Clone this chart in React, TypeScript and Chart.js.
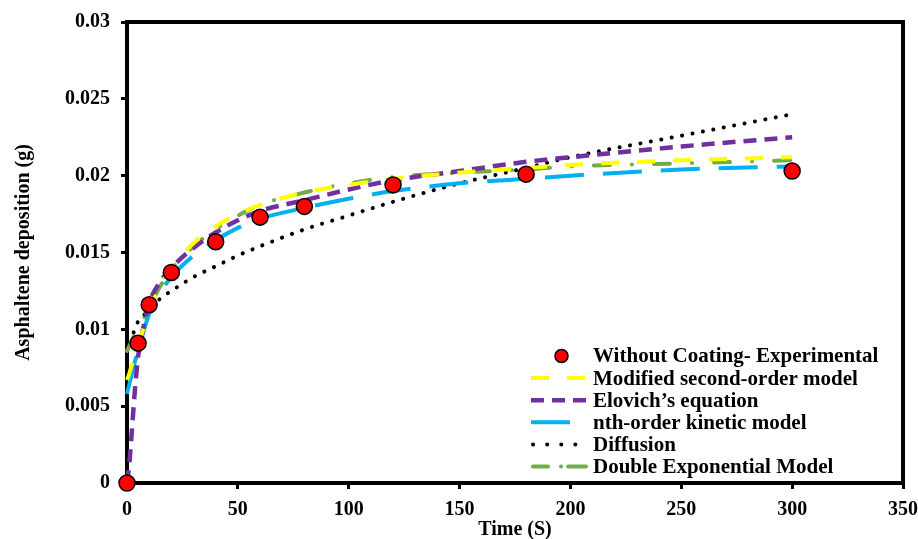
import React, { useEffect, useRef } from 'react';
import { Chart, registerables } from 'chart.js';
Chart.register(...registerables);

const FONT = '"Liberation Serif", "Times New Roman", serif';

// Experimental data
const tExp = [0, 5, 10, 20, 40, 60, 80, 120, 180, 300];
const qExp = [0, 0.0091, 0.0116, 0.0137, 0.0157, 0.0173, 0.018, 0.0194, 0.0201, 0.0203];

// Model curves
const tModel = [0, 1, 2, 3, 4, 5, 7.5, 10, 15, 20, 30, 40, 50, 60, 80, 100, 120, 150, 180, 200, 250, 300];
const qSecondOrder = [0.0067, 0.0071, 0.0076, 0.008, 0.0085, 0.0089, 0.0101, 0.0112, 0.0128, 0.014, 0.0156, 0.0167, 0.0175, 0.0181, 0.0189, 0.0194, 0.0198, 0.0202, 0.0205, 0.0207, 0.021, 0.0212];
const qElovich = [0, 0.0012, 0.003, 0.005, 0.0068, 0.0082, 0.0102, 0.0117, 0.0131, 0.014, 0.0153, 0.0163, 0.0171, 0.0177, 0.0184, 0.0191, 0.0197, 0.0203, 0.0209, 0.0212, 0.0219, 0.0225];
const qNthOrder = [0.0058, 0.0064, 0.007, 0.0076, 0.0081, 0.0086, 0.0099, 0.011, 0.0124, 0.0134, 0.0148, 0.0158, 0.0166, 0.0172, 0.0179, 0.0185, 0.019, 0.0195, 0.0198, 0.02, 0.0204, 0.0206];
const qDoubleExp = [0.0086, 0.0089, 0.0092, 0.0095, 0.0098, 0.01, 0.0107, 0.0114, 0.0128, 0.0139, 0.0154, 0.0165, 0.0174, 0.0181, 0.0189, 0.0195, 0.0199, 0.0202, 0.0204, 0.0206, 0.0208, 0.021];
const tDiffusion = [3, 4, 5, 7.5, 10, 15, 20, 30, 40, 50, 60, 80, 100, 120, 150, 180, 200, 250, 300];
const qDiffusion = [0.0098, 0.0102, 0.0105, 0.0109, 0.0113, 0.012, 0.0125, 0.0134, 0.0141, 0.0148, 0.0154, 0.0165, 0.0174, 0.0183, 0.0195, 0.0205, 0.0212, 0.0226, 0.024];

const xTicks = [0, 50, 100, 150, 200, 250, 300, 350];
const yTicks = [0, 0.005, 0.01, 0.015, 0.02, 0.025, 0.03];

const labels = [
  'Without Coating- Experimental',
  'Modified second-order model',
  'Elovich\u2019s equation',
  'nth-order kinetic model',
  'Diffusion',
  'Double Exponential Model',
];

const pts = (t: number[], q: number[]) => t.map((x, i) => ({ x, y: q[i] }));

const framePlugin = {
  id: 'frame',
  beforeDatasetsDraw(chart: any) {
    const { ctx, chartArea: a } = chart;
    ctx.save();
    ctx.strokeStyle = '#000';
    ctx.lineWidth = 4;
    ctx.lineCap = 'square';
    ctx.beginPath();
    ctx.moveTo(a.left, a.top);
    ctx.lineTo(a.right, a.top);
    ctx.lineTo(a.right, a.bottom);
    ctx.stroke();
    ctx.restore();
  },
};

const legendPlugin = {
  id: 'insideLegend',
  afterDatasetsDraw(chart: any) {
    const { ctx, chartArea: a } = chart;
    const x0 = a.right - 372;
    const x1 = a.right - 315;
    const tx = a.right - 310;
    const y0 = a.bottom - 127;
    const dy = 22.1;
    ctx.save();
    chart.data.datasets.forEach((ds: any, i: number) => {
      const y = y0 + i * dy;
      if (ds.showLine === false) {
        ctx.beginPath();
        ctx.arc((x0 + x1) / 2 + 2, y, 6.5, 0, Math.PI * 2);
        ctx.fillStyle = ds.pointBackgroundColor;
        ctx.fill();
        ctx.lineWidth = 1.5;
        ctx.strokeStyle = ds.pointBorderColor;
        ctx.stroke();
      } else {
        ctx.beginPath();
        ctx.setLineDash(ds.legendDash || ds.borderDash || []);
        ctx.lineDashOffset = 0;
        ctx.lineCap = ds.borderCapStyle || 'butt';
        ctx.strokeStyle = ds.borderColor;
        ctx.lineWidth = ds.borderWidth;
        const capPad = ds.borderCapStyle === 'round' ? 2 : 0;
        ctx.moveTo(x0 + capPad, y);
        ctx.lineTo(x1 - capPad, y);
        ctx.stroke();
        ctx.setLineDash([]);
      }
      ctx.fillStyle = '#000';
      ctx.font = 'bold 21px ' + FONT;
      ctx.textAlign = 'left';
      ctx.textBaseline = 'middle';
      ctx.fillText(ds.label, tx, y + 1);
    });
    ctx.restore();
  },
};

export default function App() {
  const ref = useRef<HTMLCanvasElement>(null);
  useEffect(() => {
    document.body.style.margin = '0';
    const canvas = ref.current!;
    const lineBase = {
      type: 'line' as const,
      pointRadius: 0,
      pointHoverRadius: 0,
      fill: false,
      cubicInterpolationMode: 'monotone' as const,
      borderJoinStyle: 'round' as const,
      clip: false as any,
    };
    const chart = new Chart(canvas, {
      type: 'line',
      data: {
        datasets: [
          {
            label: labels[0],
            data: pts(tExp, qExp),
            showLine: false,
            pointRadius: 8,
            pointHoverRadius: 8,
            pointBackgroundColor: '#FF0000',
            pointBorderColor: '#000000',
            pointBorderWidth: 1.5,
            borderColor: '#000000',
            backgroundColor: '#FF0000',
            clip: false as any,
          },
          {
            ...lineBase,
            label: labels[1],
            data: pts(tModel, qSecondOrder),
            borderColor: '#FFFF00',
            borderWidth: 4,
            borderDash: [18, 18],
            borderCapStyle: 'butt',
          },
          {
            ...lineBase,
            label: labels[2],
            data: pts(tModel, qElovich),
            borderColor: '#7030A0',
            borderWidth: 4.5,
            borderDash: [13, 8],
            borderCapStyle: 'butt',
          },
          {
            ...lineBase,
            label: labels[3],
            data: pts(tModel, qNthOrder),
            borderColor: '#00B0F0',
            borderWidth: 4,
            borderDash: [39, 19],
            borderCapStyle: 'butt',
          },
          {
            ...lineBase,
            label: labels[4],
            data: pts(tDiffusion, qDiffusion),
            borderColor: '#000000',
            borderWidth: 4,
            borderDash: [0.1, 10.5],
            legendDash: [0.1, 14],
            borderCapStyle: 'round',
          },
          {
            ...lineBase,
            label: labels[5],
            data: pts(tModel, qDoubleExp),
            borderColor: '#70AD47',
            borderWidth: 4,
            borderDash: [16, 22, 0.1, 22],
            legendDash: [15, 13, 0.1, 7, 40],
            borderCapStyle: 'round',
          },
        ] as any,
      },
      options: {
        responsive: false,
        animation: false,
        events: [],
        layout: { padding: { top: 22, right: 15, left: 0, bottom: 0 } },
        plugins: {
          legend: { display: false },
          tooltip: { enabled: false },
        },
        scales: {
          x: {
            type: 'linear',
            min: 0,
            max: 350,
            afterBuildTicks: (s: any) => {
              s.ticks = xTicks.map((v) => ({ value: v }));
            },
            afterFit: (s: any) => {
              s.height = 56;
              s.paddingLeft = 0;
              s.paddingRight = 0;
            },
            grid: {
              drawOnChartArea: false,
              drawTicks: true,
              tickLength: 6,
              lineWidth: 3,
              color: '#000',
            },
            border: { display: true, width: 4, color: '#000' },
            ticks: {
              color: '#000',
              padding: 9,
              maxRotation: 0,
              font: { family: FONT, size: 20, weight: 'bold' },
              callback: (v: any) => String(v),
            },
            title: {
              display: true,
              text: 'Time (S)',
              color: '#000',
              font: { family: FONT, size: 20, weight: 'bold' },
              padding: { top: 0, bottom: -3 },
            },
          },
          y: {
            type: 'linear',
            min: 0,
            max: 0.03,
            afterBuildTicks: (s: any) => {
              s.ticks = yTicks.map((v) => ({ value: v }));
            },
            afterFit: (s: any) => {
              s.width = 127;
              s.paddingTop = 0;
              s.paddingBottom = 0;
            },
            grid: {
              drawOnChartArea: false,
              drawTicks: true,
              tickLength: 6,
              lineWidth: 3,
              color: '#000',
            },
            border: { display: true, width: 4, color: '#000' },
            ticks: {
              color: '#000',
              padding: 11,
              font: { family: FONT, size: 20, weight: 'bold' },
              callback: (v: any) => String(Number(Number(v).toFixed(3))),
            },
            title: {
              display: true,
              text: 'Asphaltene deposition (g)',
              color: '#000',
              font: { family: FONT, size: 20, weight: 'bold' },
              padding: { top: 12, bottom: 0 },
            },
          },
        },
      } as any,
      plugins: [framePlugin, legendPlugin],
    });
    return () => chart.destroy();
  }, []);
  return (
    <div style={{ width: 918, height: 539 }}>
      <canvas ref={ref} width={918} height={539} style={{ display: 'block', width: 918, height: 539 }} />
    </div>
  );
}
